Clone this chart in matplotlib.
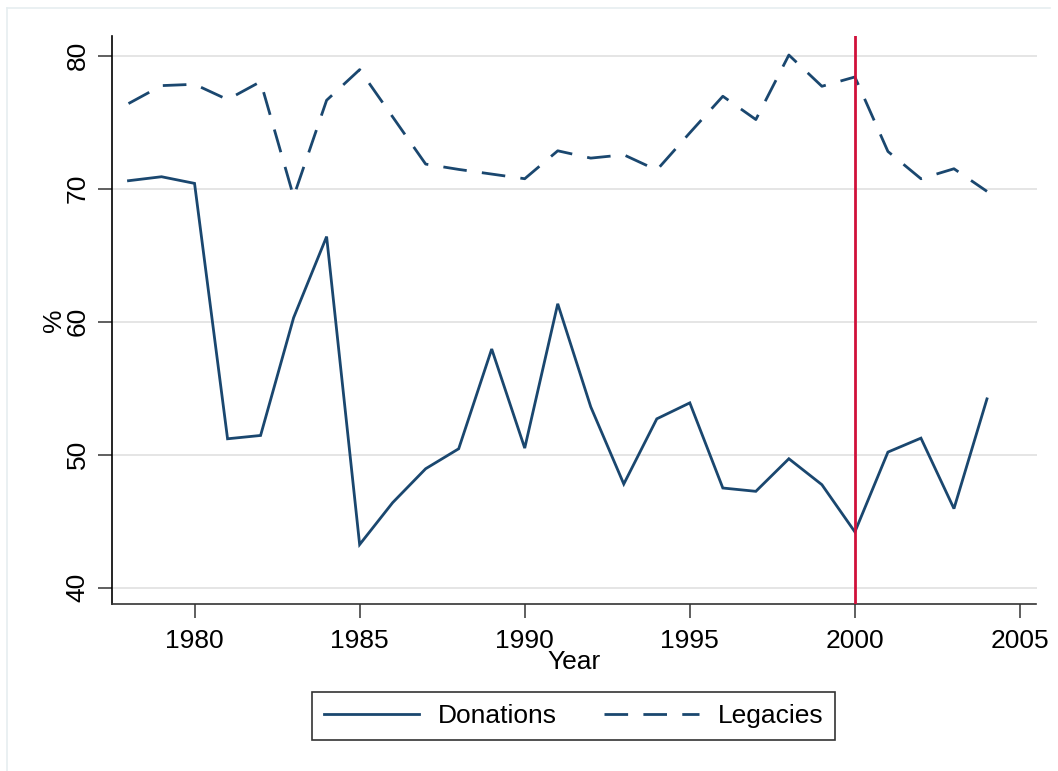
import matplotlib
matplotlib.use("Agg")
import matplotlib.pyplot as plt
from matplotlib.lines import Line2D

plt.rcParams['font.family'] = ['Liberation Sans', 'DejaVu Sans']

years = list(range(1978, 2005))
donations = [70.6, 70.9, 70.4, 51.2, 51.45, 60.3, 66.4, 43.25, 46.4, 48.95,
             50.45, 57.95, 50.5, 61.35, 53.6, 47.8, 52.7, 53.9, 47.5, 47.25,
             49.7, 47.75, 44.2, 50.2, 51.25, 45.95, 54.2]
legacies = [76.4, 77.75, 77.85, 76.7, 78.05, 69.4, 76.65, 78.95, 75.4, 71.85,
            71.45, 71.1, 70.75, 72.85, 72.3, 72.55, 71.4, 74.2, 76.95, 75.2,
            80.05, 77.7, 78.4, 72.8, 70.75, 71.5, 69.8]
series_labels = ["Donations", "Legacies"]
xticks = [1980, 1985, 1990, 1995, 2000, 2005]
yticks = [40, 50, 60, 70, 80]
vline_year = 2000

navy = '#1a476f'
red = '#d0103a'

fig = plt.figure(figsize=(10.58, 7.71), dpi=100)
ax = fig.add_axes([112/1058, 1-604/771, (1036.5-112)/1058, (604-36)/771])

ax.set_xlim(1977.5, 2005.5)
ax.set_ylim(38.78, 81.48)

for y in yticks:
    ax.axhline(y, color='#e3e3e3', lw=1.3, zorder=0)

ax.plot(years, donations, color=navy, lw=2.0, solid_joinstyle='miter', zorder=2)
ax.plot(years, legacies, color=navy, lw=2.0, linestyle=(0, (8.5, 5.5)), zorder=2)
ax.axvline(vline_year, color=red, lw=2.0, zorder=3)

for s in ['top', 'right']:
    ax.spines[s].set_visible(False)
ax.spines['left'].set_linewidth(1.2)
ax.spines['bottom'].set_linewidth(1.2)
ax.spines['left'].set_color('black')
ax.spines['bottom'].set_color('#333333')

ax.set_xticks(xticks)
ax.set_yticks(yticks)
ax.set_yticklabels([str(v) for v in yticks], rotation=90, va='center')
ax.tick_params(axis='both', labelsize=19, length=10, width=1.2, color='#444444', pad=8)
ax.tick_params(axis='y', pad=6)

ax.set_xlabel("Year", fontsize=19, labelpad=-2)
ax.set_ylabel("%", fontsize=19, labelpad=0)

handles = [Line2D([], [], color=navy, lw=2.0),
           Line2D([], [], color=navy, lw=2.0, linestyle=(0, (8.5, 5.5)))]
leg = fig.legend(handles, series_labels, loc='center', bbox_to_anchor=(573.5/1058, 1-716/771),
                 ncol=2, fontsize=19, frameon=True, fancybox=False, edgecolor='black',
                 handlelength=3.6, handletextpad=0.7, columnspacing=1.8,
                 borderpad=0.45)
leg.get_frame().set_linewidth(1.2)

# faint outer border (top & left)
fig.add_artist(Line2D([7/1058, 1050/1058], [1-8/771, 1-8/771], color='#e6eef0', lw=1.2))
fig.add_artist(Line2D([7/1058, 7/1058], [1-8/771, 0.0], color='#e6eef0', lw=1.2))

fig.savefig("out.png", dpi=100, facecolor='white')
